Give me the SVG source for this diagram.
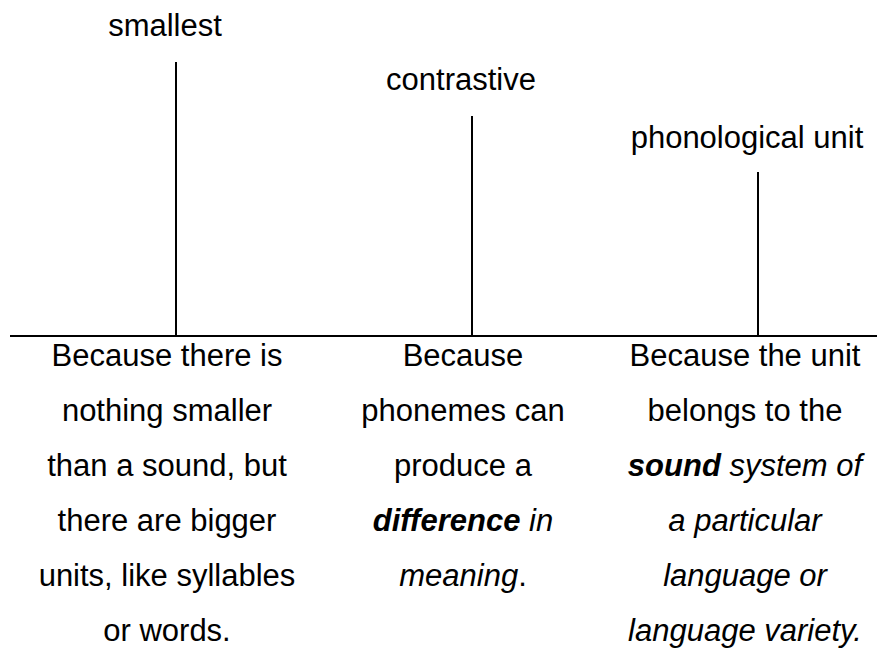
<svg xmlns="http://www.w3.org/2000/svg" width="877" height="648" viewBox="0 0 877 648">
<style>
.t{font-family:"Liberation Sans",Arial,sans-serif;font-size:31px;fill:#000;text-anchor:middle}
.ln{stroke:#000;stroke-width:2;fill:none}
.b{font-weight:bold}
.i{font-style:italic}
</style>
<rect width="877" height="648" fill="#fff"/>
<g id="connectors">
<line class="ln" x1="10" y1="336" x2="877" y2="336"/>
<line class="ln" x1="176" y1="62" x2="176" y2="336"/>
<line class="ln" x1="472" y1="116" x2="472" y2="336"/>
<line class="ln" x1="758" y1="172" x2="758" y2="336"/>
</g>
<g id="label-smallest"><text class="t" x="165" y="36">smallest</text></g>
<g id="label-contrastive"><text class="t" x="461" y="90">contrastive</text></g>
<g id="label-phonological"><text class="t" x="747" y="148">phonological unit</text></g>
<g id="col1">
<text class="t" x="167" y="366">Because there is</text>
<text class="t" x="167" y="421">nothing smaller</text>
<text class="t" x="167" y="476">than a sound, but</text>
<text class="t" x="167" y="531">there are bigger</text>
<text class="t" x="167" y="586">units, like syllables</text>
<text class="t" x="167" y="641">or words.</text>
</g>
<g id="col2">
<text class="t" x="463" y="366">Because</text>
<text class="t" x="463" y="421">phonemes can</text>
<text class="t" x="463" y="476">produce a</text>
<text class="t" x="463" y="531"><tspan class="b i">difference</tspan><tspan class="i"> in</tspan></text>
<text class="t" x="463" y="586"><tspan class="i">meaning</tspan>.</text>
</g>
<g id="col3">
<text class="t" x="745" y="366">Because the unit</text>
<text class="t" x="745" y="421">belongs to the</text>
<text class="t" x="745" y="476"><tspan class="b i">sound</tspan><tspan class="i"> system of</tspan></text>
<text class="t i" x="745" y="531">a particular</text>
<text class="t i" x="745" y="586">language or</text>
<text class="t i" x="745" y="641">language variety.</text>
</g>
</svg>
